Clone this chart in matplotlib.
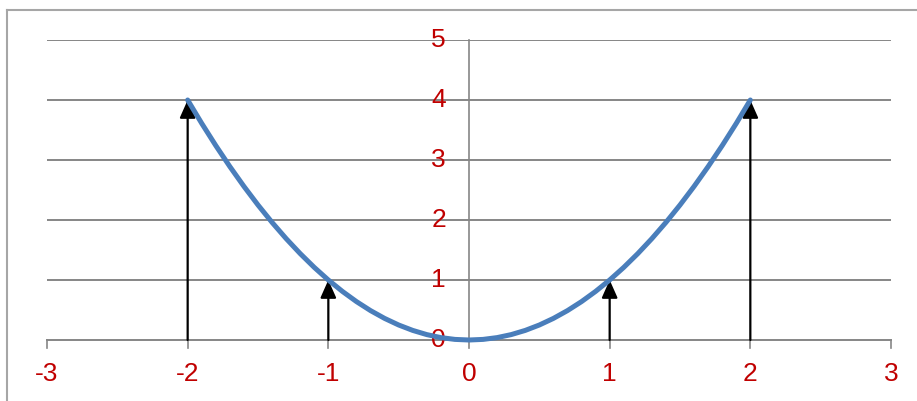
import matplotlib.pyplot as plt

# values
curve_x = [-2.0, -1.9, -1.8, -1.7, -1.6, -1.5, -1.4, -1.3, -1.2, -1.1, -1.0,
           -0.9, -0.8, -0.7, -0.6, -0.5, -0.4, -0.3, -0.2, -0.1, 0.0,
           0.1, 0.2, 0.3, 0.4, 0.5, 0.6, 0.7, 0.8, 0.9, 1.0,
           1.1, 1.2, 1.3, 1.4, 1.5, 1.6, 1.7, 1.8, 1.9, 2.0]
curve_y = [4.0, 3.61, 3.24, 2.89, 2.56, 2.25, 1.96, 1.69, 1.44, 1.21, 1.0,
           0.81, 0.64, 0.49, 0.36, 0.25, 0.16, 0.09, 0.04, 0.01, 0.0,
           0.01, 0.04, 0.09, 0.16, 0.25, 0.36, 0.49, 0.64, 0.81, 1.0,
           1.21, 1.44, 1.69, 1.96, 2.25, 2.56, 2.89, 3.24, 3.61, 4.0]
arrow_x = [-2, -1, 1, 2]
arrow_top = [4, 1, 1, 4]
x_ticks = [-3, -2, -1, 0, 1, 2, 3]
y_ticks = [0, 1, 2, 3, 4, 5]

red = '#C00000'
gray = '#868686'
fonts = ['Liberation Sans Narrow', 'Liberation Sans', 'DejaVu Sans']

fig = plt.figure(figsize=(9.17, 4.01), dpi=100)
fig.patch.set_facecolor('white')

# outer chart border (top and left only visible)
fig.add_artist(plt.Line2D([7/917, 1], [1 - 10/401, 1 - 10/401], color='#A6A6A6', lw=1.5))
fig.add_artist(plt.Line2D([7/917, 7/917], [0, 1 - 10/401], color='#A6A6A6', lw=1.5))

ax = fig.add_axes([47/917, 61/401, 844/917, 300/401])
ax.set_xlim(-3, 3)
ax.set_ylim(0, 5)
ax.axis('off')

# gridlines and axes
for y in y_ticks[1:]:
    ax.plot([-3, 3], [y, y], color=gray, lw=1.4, zorder=1)
ax.plot([-3, 3], [0, 0], color=gray, lw=1.4, zorder=1, clip_on=False)
ax.plot([0, 0], [0, 5], color=gray, lw=1.2, zorder=1, clip_on=False)

# x tick marks and labels
for x in x_ticks:
    ax.plot([x, x], [0, -8/60], color=gray, lw=1.2, clip_on=False)
    ax.text(x, -34/60, str(x), color=red, fontsize=19, family=fonts,
            ha='center', va='center')

# y tick labels
for y in y_ticks:
    ax.text(-23/140.7, y, str(y), color=red, fontsize=19, family=fonts,
            ha='right', va='center')

# arrows
for x, top in zip(arrow_x, arrow_top):
    ax.annotate('', xy=(x, top), xytext=(x, 0),
                arrowprops=dict(arrowstyle='-|>,head_length=0.9,head_width=0.4',
                                mutation_scale=12, color='black', lw=1.6,
                                shrinkA=0, shrinkB=0), zorder=2)

# curve
ax.plot(curve_x, curve_y, color='#4A7EBB', lw=3.6, solid_capstyle='round',
        solid_joinstyle='round', zorder=3, clip_on=False)

plt.savefig('out.png', dpi=100)
